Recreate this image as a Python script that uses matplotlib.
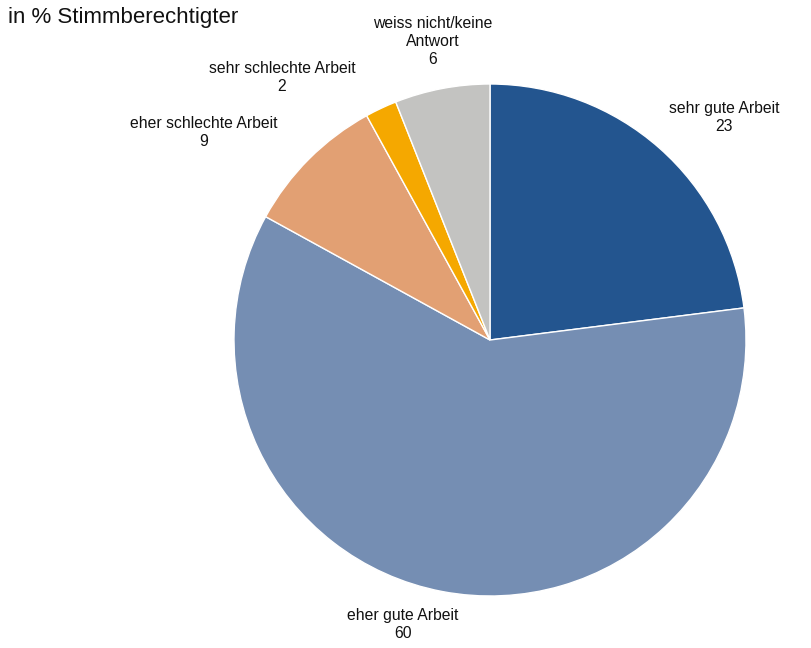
import matplotlib
matplotlib.use("Agg")
import matplotlib.pyplot as plt

categories = ["sehr gute Arbeit", "eher gute Arbeit", "eher schlechte Arbeit",
              "sehr schlechte Arbeit", "weiss nicht/keine\nAntwort"]
values = [23, 60, 9, 2, 6]
colors = ["#23558F", "#758EB3", "#E2A073", "#F5A800", "#C3C3C1"]
label_pos = [(0.914, 0.871), (-0.340, -1.113), (-1.117, 0.8125), (-0.8125, 1.025), (-0.2227, 1.165)]

plt.rcParams['font.family'] = ['Liberation Sans', 'DejaVu Sans']

W, H = 811, 648
fig = plt.figure(figsize=(W / 100, H / 100), dpi=100)
cx, cy, r = 490, 340, 256
ax = fig.add_axes([(cx - r) / W, 1 - (cy + r) / H, 2 * r / W, 2 * r / H])
ax.pie(values, colors=colors, startangle=90, counterclock=False, radius=1,
       wedgeprops=dict(edgecolor="white", linewidth=1))
ax.set_xlim(-1, 1)
ax.set_ylim(-1, 1)
ax.set_aspect("equal")
ax.axis("off")

for cat, v, (x, y) in zip(categories, values, label_pos):
    ax.text(x, y, f"{cat}\n{v}", ha="center", va="center", fontsize=11.3,
            linespacing=1.25, clip_on=False, color="#111111")

fig.text(8 / W, 1 - 18 / H, "in % Stimmberechtigter", ha="left", va="center",
         fontsize=16, color="#111111")

fig.savefig("out.png", dpi=100)
